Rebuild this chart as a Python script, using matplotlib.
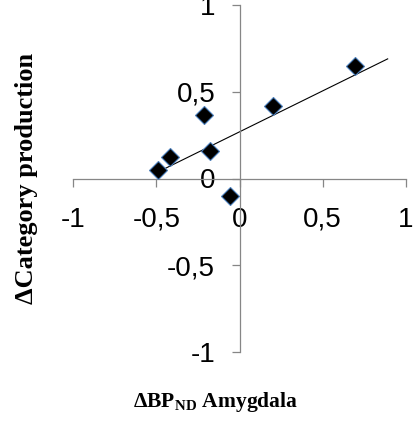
import numpy as np
import matplotlib
matplotlib.use("Agg")
import matplotlib.pyplot as plt

# data
bp_nd = [-0.49, -0.42, -0.216, -0.176, -0.06, 0.20, 0.696]
cat_prod = [0.048, 0.125, 0.365, 0.157, -0.10, 0.42, 0.647]
ticks = [-1, -0.5, 0, 0.5, 1]
tick_labels = ["-1", "-0,5", "0", "0,5", "1"]
trend_end = 0.89

plt.rcParams['font.family'] = ['Liberation Sans', 'DejaVu Sans']

fig = plt.figure(figsize=(4.13, 4.21), dpi=100)
ax = fig.add_axes([73/413, 1 - 352/421, 333/413, 347/421])

# linear trendline (least squares)
k, b = np.polyfit(bp_nd, cat_prod, 1)
xt = np.array([min(bp_nd), trend_end])
ax.plot(xt, k*xt + b, color="black", linewidth=0.8, zorder=2)

ax.plot(bp_nd, cat_prod, linestyle="none", marker="D", markersize=9.5,
        markerfacecolor="black", markeredgecolor="#4a7ebb", markeredgewidth=0.8, zorder=3)

ax.set_xlim(-1, 1)
ax.set_ylim(-1, 1)
ax.spines['left'].set_position(('data', 0))
ax.spines['bottom'].set_position(('data', 0))
ax.spines['right'].set_visible(False)
ax.spines['top'].set_visible(False)
for s in ['left', 'bottom']:
    ax.spines[s].set_color("#868686")
    ax.spines[s].set_linewidth(0.9)

ax.set_xticks(ticks)
ax.set_xticklabels(tick_labels)
ax.set_yticks(ticks)
ax.set_yticklabels(tick_labels)
ax.tick_params(axis='both', direction='out', length=5.5, width=0.9, color="#868686", labelsize=20)
ax.tick_params(axis='x', pad=15)
ax.tick_params(axis='y', pad=12)
ax.patch.set_visible(False)

fig.text(26/413, 1 - 178/421, "ΔCategory production", rotation=90, ha="center", va="center",
         family=["Liberation Serif", "DejaVu Serif"], fontweight="bold", fontsize=19)
fig.text(215/413, 1 - 402/421, r"ΔBP$_{\mathregular{ND}}$ Amygdala", ha="center", va="center",
         family=["Liberation Serif", "DejaVu Serif"], fontweight="bold", fontsize=15.5)

fig.savefig("out.png", dpi=100)
